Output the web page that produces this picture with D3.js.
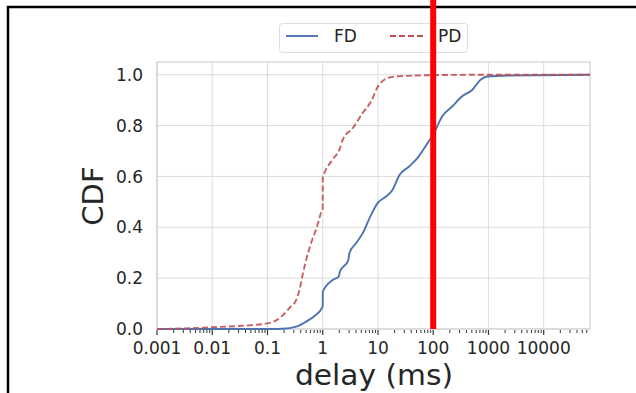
<!DOCTYPE html>
<html>
<head>
<meta charset="utf-8">
<script src="https://cdn.jsdelivr.net/npm/d3@7"></script>
<style>
  body { margin: 0; background: #fff; }
  svg { display: block; font-family: "DejaVu Sans", sans-serif; }
</style>
</head>
<body>
<svg id="canvas" width="636" height="393"></svg>
<script>
// delay (ms) / cdf pairs
let fdDelay = [0.001, 0.1, 0.19, 0.33, 0.5, 0.71, 0.999, 1.001, 1.52, 1.95, 2.05, 2.9, 3.05, 4.0, 5.3, 7.5, 10, 14, 18.3, 24.5, 36.6, 51.7, 79, 103, 145, 220, 334, 512, 720, 950, 2300, 68900]
let fdCdf   = [0, 0, 0.001, 0.009, 0.029, 0.051, 0.088, 0.147, 0.193, 0.206, 0.226, 0.27, 0.30, 0.337, 0.377, 0.449, 0.497, 0.521, 0.547, 0.606, 0.639, 0.672, 0.731, 0.77, 0.836, 0.875, 0.915, 0.941, 0.98, 0.993, 0.997, 1.0]

let pdDelay = [0.001, 0.003, 0.01, 0.03, 0.1, 0.166, 0.25, 0.33, 0.38, 0.44, 0.52, 0.62, 0.78, 0.94, 0.999, 1.001, 1.5, 2.0, 2.3, 3.5, 5.3, 7.5, 10, 13, 21, 85, 1000, 68900]
let pdCdf   = [0, 0.002, 0.007, 0.012, 0.022, 0.043, 0.083, 0.114, 0.154, 0.22, 0.285, 0.34, 0.40, 0.46, 0.475, 0.593, 0.665, 0.705, 0.744, 0.79, 0.85, 0.895, 0.954, 0.98, 0.993, 0.998, 1.0, 1.0]

let xTicks = [0.001, 0.01, 0.1, 1, 10, 100, 1000, 10000]
let xTickLabels = ['0.001', '0.01', '0.1', '1', '10', '100', '1000', '10000']
let yTicks = [0, 0.2, 0.4, 0.6, 0.8, 1.0]
let markerDelay = 100

let canvas = d3.select('#canvas')

let x = d3.scaleLog().domain([0.001, 68900]).range([157, 590])
let y = d3.scaleLinear().domain([0, 1.05]).range([329, 62])

// outer frame
canvas.append('rect')
  .attr('x', 8).attr('y', 7)
  .attr('width', 700).attr('height', 500)
  .attr('fill', 'none').attr('stroke', '#000').attr('stroke-width', 2.5)

// grid
canvas.append('g').selectAll('line')
  .data(xTicks)
  .enter().append('line')
  .attr('x1', d => x(d)).attr('x2', d => x(d))
  .attr('y1', y(1.05)).attr('y2', y(0))
  .attr('stroke', '#dcdcdc').attr('stroke-width', 1)

canvas.append('g').selectAll('line')
  .data(yTicks)
  .enter().append('line')
  .attr('x1', x(0.001)).attr('x2', x(68900))
  .attr('y1', d => y(d)).attr('y2', d => y(d))
  .attr('stroke', '#dcdcdc').attr('stroke-width', 1)

// plot border
canvas.append('rect')
  .attr('x', x(0.001)).attr('y', y(1.05))
  .attr('width', x(68900) - x(0.001)).attr('height', y(0) - y(1.05))
  .attr('fill', 'none').attr('stroke', '#d0d0d0').attr('stroke-width', 1.2)

// x ticks, major and minor
let minor = []
for (let e = -3; e <= 4; e++) {
  for (let m = 2; m <= 9; m++) {
    let v = m * Math.pow(10, e)
    if (v <= 68900) minor.push(v)
  }
}
canvas.append('g').selectAll('line')
  .data(minor)
  .enter().append('line')
  .attr('x1', d => x(d)).attr('x2', d => x(d))
  .attr('y1', y(0) + 1).attr('y2', y(0) + 4)
  .attr('stroke', '#333').attr('stroke-width', 1)

canvas.append('g').selectAll('line')
  .data(xTicks)
  .enter().append('line')
  .attr('x1', d => x(d)).attr('x2', d => x(d))
  .attr('y1', y(0) + 1).attr('y2', y(0) + 6)
  .attr('stroke', '#333').attr('stroke-width', 1.2)

canvas.append('g').selectAll('text')
  .data(xTicks)
  .enter().append('text')
  .attr('x', d => x(d)).attr('y', 354)
  .attr('text-anchor', 'middle')
  .attr('font-size', 17).attr('fill', '#262626')
  .text((d, i) => xTickLabels[i])

canvas.append('g').selectAll('text')
  .data(yTicks)
  .enter().append('text')
  .attr('x', 143).attr('y', d => y(d))
  .attr('dy', '0.36em')
  .attr('text-anchor', 'end')
  .attr('font-size', 17).attr('fill', '#262626')
  .text(d => d.toFixed(1))

// axis labels
canvas.append('text')
  .attr('transform', 'translate(103,196) rotate(-90)')
  .attr('text-anchor', 'middle')
  .attr('font-size', 29).attr('fill', '#262626')
  .text('CDF')

canvas.append('text')
  .attr('transform', 'translate(374,385) scale(1.06,1)')
  .attr('text-anchor', 'middle')
  .attr('font-size', 28).attr('fill', '#262626')
  .text('delay (ms)')

// curves
let line = d3.line().x(d => x(d[0])).y(d => y(d[1])).curve(d3.curveMonotoneX)

canvas.append('path')
  .datum(d3.zip(fdDelay, fdCdf))
  .attr('d', line)
  .attr('fill', 'none').attr('stroke', '#4c72b0').attr('stroke-width', 1.9)
  .attr('stroke-linejoin', 'round')

canvas.append('path')
  .datum(d3.zip(pdDelay, pdCdf))
  .attr('d', line)
  .attr('fill', 'none').attr('stroke', '#c44e52').attr('stroke-width', 1.9)
  .attr('stroke-dasharray', '6,3')
  .attr('opacity', 0.9)

// legend
let legend = canvas.append('g')
legend.append('rect')
  .attr('x', 279.5).attr('y', 23.5).attr('width', 188).attr('height', 29)
  .attr('rx', 3).attr('fill', '#fff').attr('stroke', '#dddddd')
legend.append('line')
  .attr('x1', 286).attr('x2', 318).attr('y1', 36).attr('y2', 36)
  .attr('stroke', '#4c72b0').attr('stroke-width', 1.9)
legend.append('text')
  .attr('x', 334).attr('y', 42).attr('font-size', 17).attr('fill', '#262626')
  .text('FD')
legend.append('line')
  .attr('x1', 390).attr('x2', 426).attr('y1', 36).attr('y2', 36)
  .attr('stroke', '#c44e52').attr('stroke-width', 1.9)
  .attr('stroke-dasharray', '6,3')
legend.append('text')
  .attr('x', 438).attr('y', 42).attr('font-size', 17).attr('fill', '#262626')
  .text('PD')

// red marker at 100 ms
canvas.append('line')
  .attr('x1', x(markerDelay)).attr('x2', x(markerDelay))
  .attr('y1', 0).attr('y2', y(0))
  .attr('stroke', '#ff0000').attr('stroke-width', 6)
</script>
</body>
</html>
